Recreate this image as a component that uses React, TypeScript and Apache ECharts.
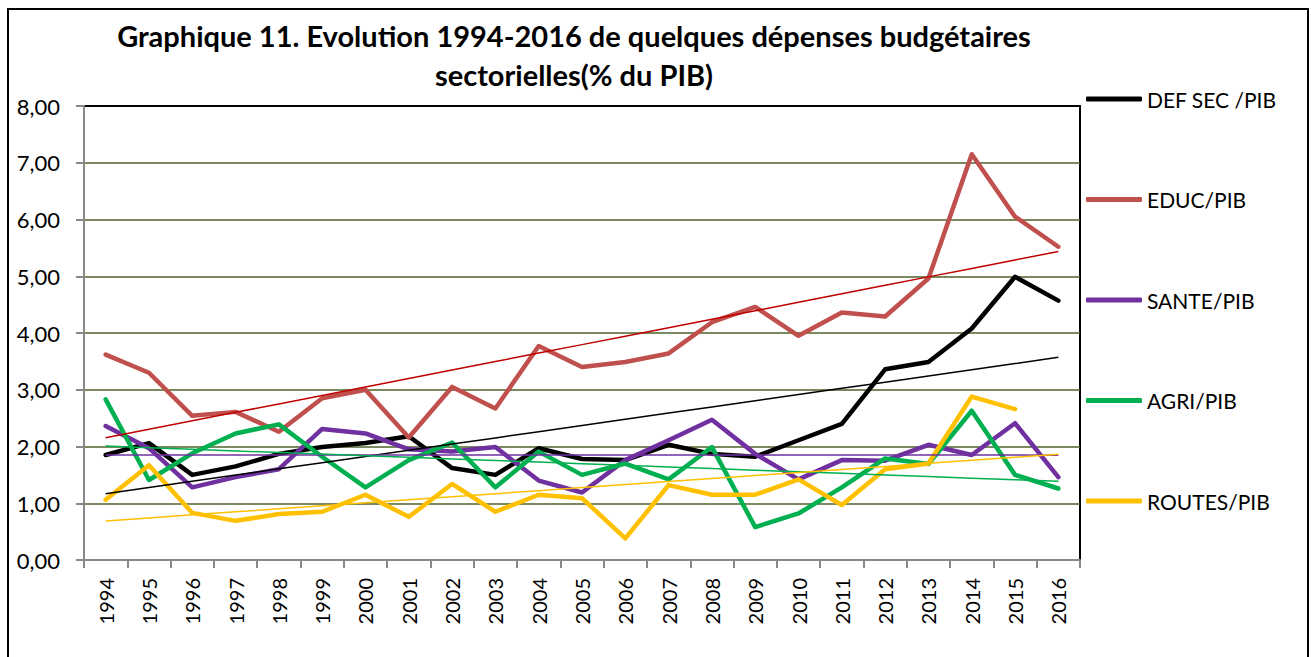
import React, { useEffect, useRef } from "react";
import * as echarts from "echarts";

const years = ["1994","1995","1996","1997","1998","1999","2000","2001","2002","2003","2004","2005","2006","2007","2008","2009","2010","2011","2012","2013","2014","2015","2016"];
const yTicks = [0, 1, 2, 3, 4, 5, 6, 7, 8];

const defSec = [1.85,2.06,1.50,1.65,1.87,1.99,2.06,2.18,1.62,1.50,1.97,1.78,1.76,2.03,1.87,1.82,2.11,2.40,3.36,3.49,4.08,4.99,4.57];
const educ = [3.62,3.30,2.54,2.61,2.26,2.85,3.00,2.16,3.05,2.67,3.77,3.40,3.49,3.64,4.19,4.46,3.95,4.36,4.29,4.96,7.15,6.05,5.52];
const sante = [2.36,1.97,1.28,1.46,1.60,2.31,2.23,1.95,1.91,1.99,1.40,1.19,1.76,2.11,2.47,1.87,1.42,1.76,1.75,2.03,1.85,2.41,1.46];
const agri = [2.83,1.41,1.88,2.23,2.39,1.82,1.28,1.76,2.07,1.28,1.91,1.50,1.70,1.42,1.99,0.58,0.82,1.28,1.79,1.69,2.63,1.50,1.26];
const routes = [1.06,1.67,0.83,0.69,0.81,0.85,1.15,0.76,1.34,0.85,1.15,1.09,0.38,1.32,1.15,1.15,1.42,0.97,1.60,1.70,2.88,2.66,null];

const seriesNames = ["DEF SEC /PIB", "EDUC/PIB", "SANTE/PIB", "AGRI/PIB", "ROUTES/PIB"];
const seriesData = [defSec, educ, sante, agri, routes];
const seriesColors = ["#000000", "#C0504D", "#7030A0", "#00B050", "#FFC000"];
const trendColors = ["#000000", "#C00000", "#7030A0", "#00B050", "#FFC000"];

function linearTrend(values: (number | null)[]): number[] {
  const pts: [number, number][] = [];
  values.forEach((v, i) => { if (v !== null && v !== undefined) pts.push([i, v]); });
  const n = pts.length;
  const mx = pts.reduce((s, p) => s + p[0], 0) / n;
  const my = pts.reduce((s, p) => s + p[1], 0) / n;
  let num = 0, den = 0;
  pts.forEach(([x, y]) => { num += (x - mx) * (y - my); den += (x - mx) * (x - mx); });
  const slope = num / den;
  const b = my - slope * mx;
  return values.map((_, i) => +(b + slope * i).toFixed(4));
}

const FONT = "Lato, 'Noto Sans', sans-serif";

export default function App() {
  const ref = useRef<HTMLDivElement>(null);
  useEffect(() => {
    if (!ref.current) return;
    const chart = echarts.init(ref.current, null, { renderer: "svg" });
    const main = seriesNames.map((name, i) => ({
      name,
      type: "line",
      data: seriesData[i],
      showSymbol: false,
      symbol: "none",
      connectNulls: false,
      lineStyle: { color: seriesColors[i], width: 4.5, join: "round", cap: "round" },
      itemStyle: { color: seriesColors[i] },
      z: 3,
    }));
    const trends = seriesNames.map((name, i) => ({
      name: "trend " + name,
      type: "line",
      data: linearTrend(seriesData[i]),
      showSymbol: false,
      symbol: "none",
      silent: true,
      lineStyle: { color: trendColors[i], width: 1.5 },
      z: 4,
    }));
    chart.setOption({
      animation: false,
      backgroundColor: "#ffffff",
      textStyle: { fontFamily: FONT },
      title: {
        text: "Graphique 11. Evolution 1994-2016 de quelques dépenses budgétaires\nsectorielles(% du PIB)",
        left: 574,
        top: 16,
        padding: 0,
        textAlign: "center",
        textStyle: { fontFamily: FONT, fontWeight: "bold", fontSize: 29, lineHeight: 39, color: "#000" },
      },
      legend: {
        data: seriesNames,
        orient: "vertical",
        left: 1086,
        top: 87,
        padding: 0,
        itemWidth: 56,
        itemHeight: 5,
        itemGap: 76.5,
        icon: "roundRect",
        textStyle: { fontFamily: FONT, fontSize: 21, lineHeight: 24, color: "#000" },
      },
      grid: {
        left: 84,
        right: 231,
        top: 106,
        bottom: 97,
        show: true,
        borderColor: "#000",
        borderWidth: 2,
        containLabel: false,
      },
      xAxis: {
        type: "category",
        data: years,
        boundaryGap: true,
        axisLine: { lineStyle: { color: "#898989", width: 2 } },
        axisTick: { show: true, interval: 0, length: 8, lineStyle: { color: "#898989", width: 2 } },
        axisLabel: { rotate: 90, interval: 0, margin: 18, fontSize: 20, color: "#000", fontFamily: FONT },
        splitLine: { show: false },
      },
      yAxis: {
        type: "value",
        min: yTicks[0],
        max: yTicks[yTicks.length - 1],
        interval: 1,
        axisLine: { show: true, lineStyle: { color: "#898989", width: 2 } },
        axisTick: { show: true, length: 8, lineStyle: { color: "#898989", width: 2 } },
        axisLabel: {
          margin: 24,
          fontSize: 22,
          color: "#000",
          fontFamily: FONT,
          formatter: (v: number) => v.toFixed(2).replace(".", ","),
        },
        splitLine: { show: true, showMaxLine: false, showMinLine: false, lineStyle: { color: "#4F6228", width: 1.5 } },
      },
      graphic: [
        {
          type: "rect",
          shape: { x: 8, y: 9, width: 1300, height: 700 },
          style: { fill: "none", stroke: "#000", lineWidth: 2 },
          silent: true,
          z: 0,
        },
      ],
      series: [...main, ...trends],
    });
    return () => chart.dispose();
  }, []);
  return (
    <div
      ref={ref}
      style={{ position: "fixed", left: 0, top: 0, width: 1311, height: 657, background: "#fff" }}
    />
  );
}
